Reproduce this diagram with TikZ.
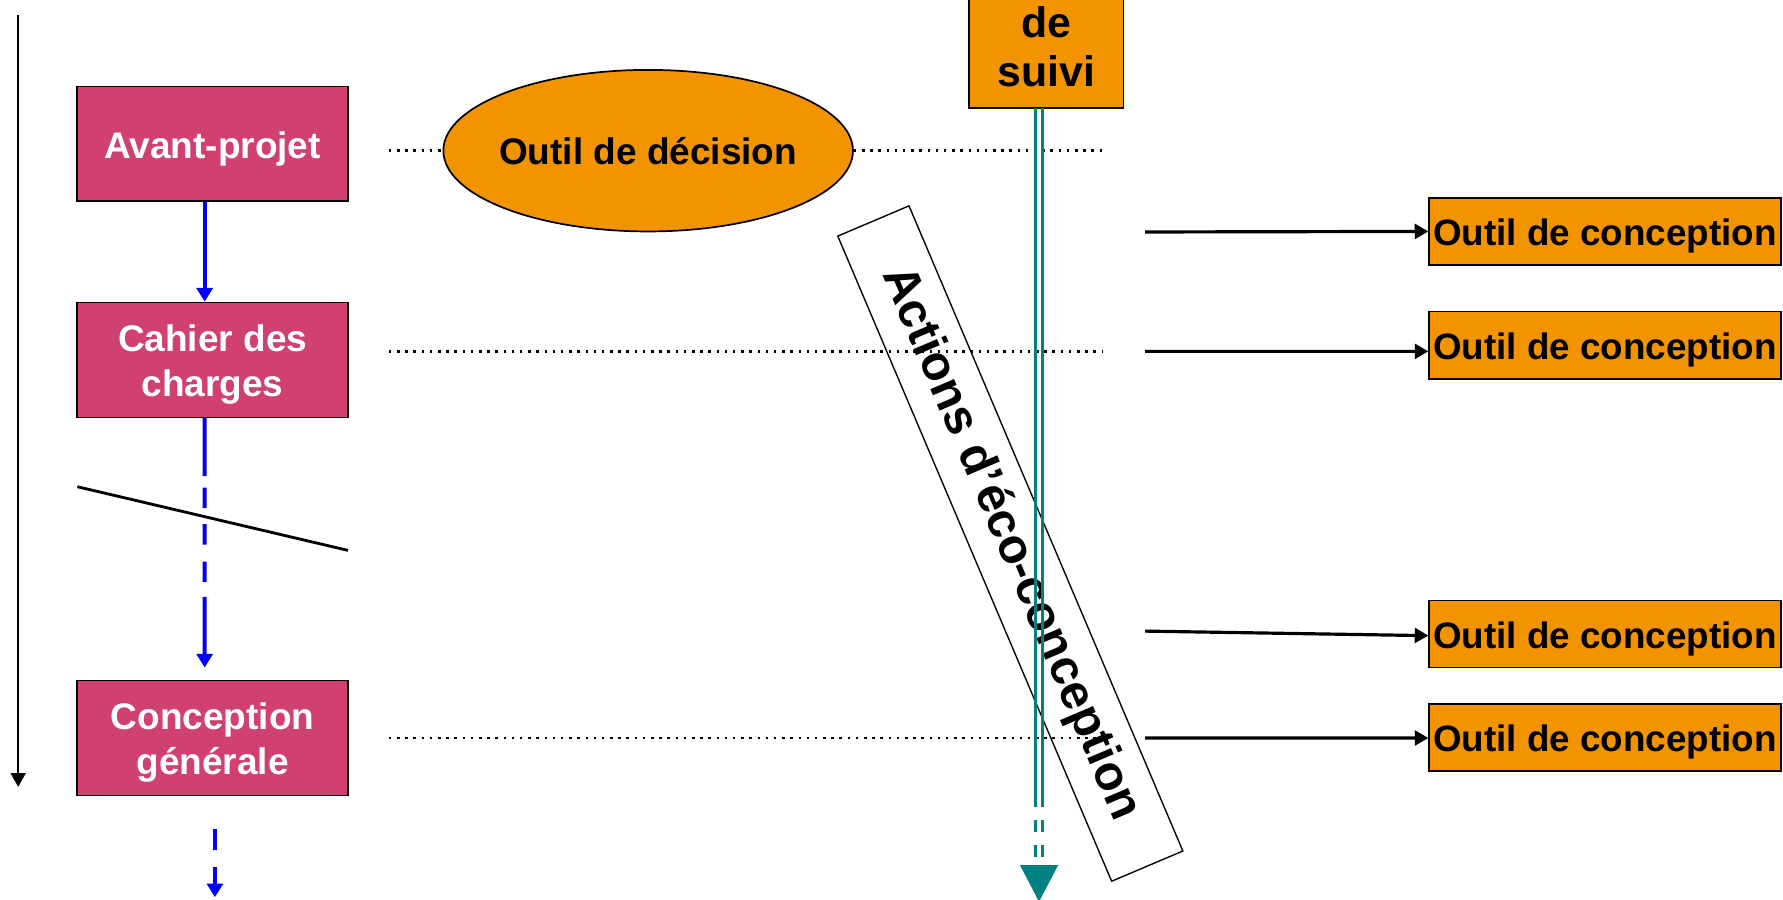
\documentclass[tikz,border=0pt]{standalone}
\usepackage{fontspec}
\setmainfont{Liberation Sans}
\usetikzlibrary{arrows.meta,shapes.geometric}
\definecolor{pinkc}{RGB}{208,64,112}
\definecolor{orangec}{RGB}{242,148,0}
\definecolor{tealc}{RGB}{0,128,128}
\definecolor{bluec}{RGB}{0,0,255}
\tikzset{
  pinkbox/.style={rectangle, draw=black, line width=0.015cm, fill=pinkc, text=white,
    minimum width=2.38cm, minimum height=1.01cm, inner sep=0pt, align=center,
    font=\fontsize{9.25pt}{11.4pt}\selectfont\bfseries},
  capcenter/.style={text height=0.716em, text depth=0pt},
  twoline/.style={text height=20.4pt},
  decell/.style={ellipse, draw=black, line width=0.015cm, fill=orangec,
    minimum width=3.6cm, minimum height=1.42cm, inner ysep=0pt, inner xsep=-0.04cm, capcenter,
    font=\fontsize{9.25pt}{11.1pt}\selectfont\bfseries},
  suivibox/.style={rectangle, draw=black, line width=0.015cm, fill=orangec,
    minimum width=1.36cm, minimum height=1.08cm, inner sep=0pt, align=center,
    font=\fontsize{10.7pt}{12.1pt}\selectfont\bfseries},
  ocbox/.style={rectangle, draw=black, line width=0.015cm, fill=orangec,
    minimum width=3.09cm, minimum height=0.59cm, inner sep=0pt, capcenter,
    font=\fontsize{9.2pt}{11pt}\selectfont\bfseries},
  ecobox/.style={rectangle, draw=black, line width=0.012cm,
    minimum width=6.16cm, minimum height=0.68cm, inner sep=0pt, rotate=-67,
    font=\fontsize{12.2pt}{14pt}\selectfont\bfseries},
  bluearrow/.style={draw=bluec, line width=0.035cm, -{Triangle[width=0.14cm,length=0.12cm]}},
  blackarrow/.style={draw=black, line width=0.028cm, -{Triangle[width=0.13cm,length=0.12cm]}},
  timearrow/.style={draw=black, line width=0.018cm, -{Triangle[width=0.13cm,length=0.12cm]}},
  dotline/.style={draw=black, line width=0.022cm, dash pattern=on 0.022cm off 0.05cm},
  tealline/.style={draw=tealc, line width=0.027cm},
}
\begin{document}
\begin{tikzpicture}[x=0.01cm,y=-0.01cm]
\useasboundingbox (0,0) rectangle (1568,790.6);

% time axis
\coordinate (ttop) at (16,13);
\coordinate (tbot) at (16,692);
\draw[timearrow] (ttop) -- (tbot);

% left phase boxes
\node[pinkbox, capcenter] (av) at (187,126.5) {Avant-projet};
\node[pinkbox, twoline] (cdc) at (187,316.5) {Cahier des\\charges};
\node[pinkbox, twoline] (cg) at (187,649) {Conception\\générale};

% decision ellipse
\node[decell] (dec) at (570,132.5) {Outil de décision};

% suivi box (top cut off)
\node[suivibox] (suivi) at (920,41) {de\\suivi};

% eco-conception rotated box
\node[ecobox] (eco) at (888.5,478) {Actions d’éco-conception};

% right boxes
\node[ocbox] (oc1) at (1411.5,203.5) {Outil de conception};
\node[ocbox] (oc2) at (1411.5,303.5) {Outil de conception};
\node[ocbox] (oc3) at (1411.5,557.5) {Outil de conception};
\node[ocbox] (oc4) at (1411.5,648.5) {Outil de conception};

% blue arrows
\draw[bluearrow] ([xshift=-0.07cm]av.south) -- ([xshift=-0.07cm]cdc.north);
\coordinate (cgtop) at (180,587);
\draw[bluearrow, dash pattern=on 0.51cm off 0.10cm on 0.18cm off 0.14cm on 0.18cm off 0.15cm on 0.18cm off 0.13cm on 1cm off 0.1cm]
  ([xshift=-0.07cm]cdc.south) -- (cgtop);
\coordinate (cgbelow) at (189,729);
\coordinate (cgend) at (189,789);
\draw[bluearrow, dash pattern=on 0.186cm off 0.144cm on 1cm off 0.1cm] (cgbelow) -- (cgend);

% diagonal cut line
\coordinate (cutA) at (68,428);
\coordinate (cutB) at (306,484);
\draw[black, line width=0.025cm] (cutA) -- (cutB);

% dotted lines
\coordinate (d1a) at (342,132.5);
\coordinate (d1b) at (970,132.5);
\coordinate (d2a) at (342,309);
\coordinate (d2b) at (970,309);
\coordinate (d3a) at (342,649);
\coordinate (d3b) at (970,649);
\draw[dotline] (d1a) -- (dec.west);
\draw[dotline] (dec.east) -- (d1b);
\draw[dotline] (d2a) -- (d2b);
\draw[dotline] (d3a) -- (d3b);

% teal double line with arrow
\coordinate (tl) at (910.5,95);
\coordinate (tr) at (917,95);
\draw[tealline, dash pattern=on 6.145cm off 0.11cm on 0.108cm off 0.118cm on 0.102cm off 1cm] (tl) -- (910.5,760);
\draw[tealline, dash pattern=on 6.145cm off 0.11cm on 0.108cm off 0.118cm on 0.102cm off 1cm] (tr) -- (917,760);
\coordinate (ttip) at (913.75,793);
\fill[tealc] (897,760.8) -- (930.5,760.8) -- (ttip) -- cycle;

% right arrows
\coordinate (r1) at (1007,204);
\coordinate (r2) at (1007,309);
\coordinate (r3) at (1007,555);
\coordinate (r4) at (1007,649);
\draw[blackarrow] (r1) -- (oc1.west);
\draw[blackarrow] (r2) -- ([yshift=-0.055cm]oc2.west);
\draw[blackarrow] (r3) -- ([yshift=-0.015cm]oc3.west);
\draw[blackarrow] (r4) -- ([yshift=-0.005cm]oc4.west);
\end{tikzpicture}
\end{document}
